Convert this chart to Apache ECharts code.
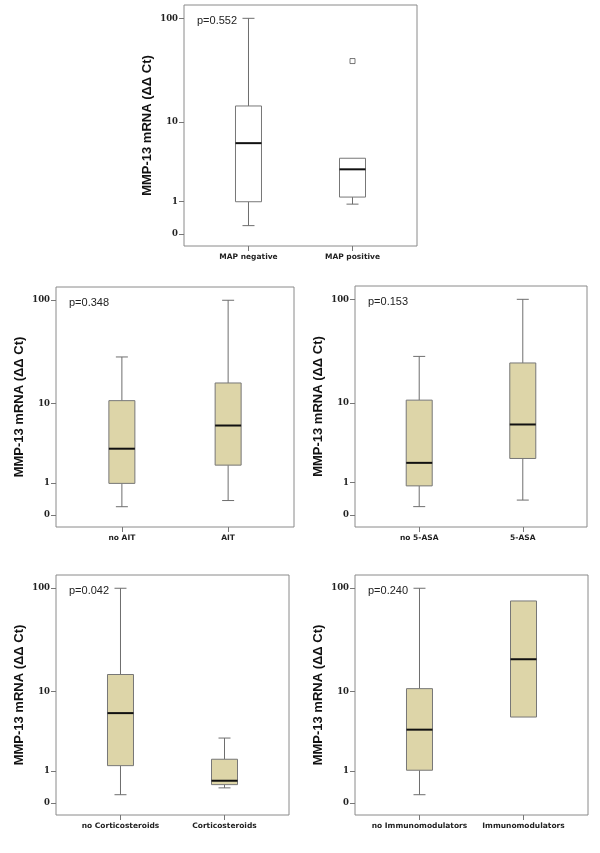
<!DOCTYPE html>
<html>
<head>
<meta charset="utf-8">
<script src="https://cdn.jsdelivr.net/npm/echarts@6/dist/echarts.min.js"></script>
<style>
html,body{margin:0;padding:0;background:#fff;}
#c{width:600px;height:853px;}
</style>
</head>
<body>
<div id="c"></div>
<script>
// Y tick labels (raw ΔΔCt values)
const yTicks = [0, 1, 10, 100];

// Panel 1
const cats1 = ['MAP negative', 'MAP positive'];
const box1 = [[0.2, 1.0, 6.0, 14.5, 100], [0.9, 1.21, 3.0, 4.07, 4.07]];
const out1 = [[1, 39.5]];
const p1 = 'p=0.552';

// Panel 2
const cats2 = ['no AIT', 'AIT'];
const box2 = [[0.2, 0.98, 3.17, 10.7, 28.9], [0.37, 1.93, 5.86, 16.1, 100]];
const p2 = 'p=0.348';

// Panel 3
const cats3 = ['no 5-ASA', '5-ASA'];
const box3 = [[0.2, 0.87, 2.06, 10.7, 28.8], [0.38, 2.36, 5.95, 24.9, 100]];
const p3 = 'p=0.153';

// Panel 4
const cats4 = ['no Corticosteroids', 'Corticosteroids'];
const box4 = [[0.2, 1.24, 5.92, 14.85, 100], [0.39, 0.49, 0.62, 1.57, 3.05]];
const p4 = 'p=0.042';

// Panel 5
const cats5 = ['no Immunomodulators', 'Immunomodulators'];
const box5 = [[0.2, 1.03, 3.85, 10.7, 100], [5.36, 5.36, 21.0, 75.9, 75.9]];
const p5 = 'p=0.240';

const T = v => Math.log10(1 + v);

const panels = [
  {cats: cats1, box: box1, out: out1, p: p1, fill: '#ffffff', rect: {left: 184, top: 5, width: 233, height: 241}},
  {cats: cats2, box: box2, out: [], p: p2, fill: '#ddd5a8', rect: {left: 56, top: 287, width: 238, height: 240}},
  {cats: cats3, box: box3, out: [], p: p3, fill: '#ddd5a8', rect: {left: 355, top: 286, width: 232, height: 241}},
  {cats: cats4, box: box4, out: [], p: p4, fill: '#ddd5a8', rect: {left: 56, top: 575, width: 233, height: 240}},
  {cats: cats5, box: box5, out: [], p: p5, fill: '#ddd5a8', rect: {left: 355, top: 575, width: 233, height: 240}}
];

function makeRender(fill) {
  return function (params, api) {
    const x = api.value(0);
    const pts = [1, 2, 3, 4, 5].map(i => api.coord([x, api.value(i)]));
    const cx = pts[0][0];
    const hw = 13, cw = 6;
    const yMin = pts[0][1], yQ1 = pts[1][1], yMed = pts[2][1], yQ3 = pts[3][1], yMax = pts[4][1];
    const ls = {stroke: '#6e6e6e', lineWidth: 1};
    const ch = [];
    if (Math.abs(yMax - yQ3) > 0.5) {
      ch.push({type: 'line', shape: {x1: cx, y1: yQ3, x2: cx, y2: yMax}, style: ls});
      ch.push({type: 'line', shape: {x1: cx - cw, y1: yMax, x2: cx + cw, y2: yMax}, style: ls});
    }
    if (Math.abs(yMin - yQ1) > 0.5) {
      ch.push({type: 'line', shape: {x1: cx, y1: yQ1, x2: cx, y2: yMin}, style: ls});
      ch.push({type: 'line', shape: {x1: cx - cw, y1: yMin, x2: cx + cw, y2: yMin}, style: ls});
    }
    ch.push({type: 'rect', shape: {x: cx - hw, y: yQ3, width: 2 * hw, height: yQ1 - yQ3},
      style: {fill: fill, stroke: '#777777', lineWidth: 1}});
    ch.push({type: 'line', shape: {x1: cx - hw, y1: yMed, x2: cx + hw, y2: yMed},
      style: {stroke: '#111111', lineWidth: 2}});
    return {type: 'group', children: ch};
  };
}

const grid = [], xAxis = [], yAxis = [], series = [], title = [];
panels.forEach((pn, i) => {
  grid.push(Object.assign({show: true, borderColor: '#8a8a8a', borderWidth: 1, backgroundColor: 'transparent', containLabel: false}, pn.rect));
  xAxis.push({
    type: 'value', gridIndex: i, min: -0.62, max: 1.62, position: 'bottom',
    axisLine: {show: false, onZero: false},
    splitLine: {show: false},
    axisTick: {show: true, customValues: [0, 1], length: 5, lineStyle: {color: '#777'}},
    axisLabel: {customValues: [0, 1], formatter: v => pn.cats[Math.round(v)] || '', margin: 7,
      fontFamily: 'DejaVu Sans', fontWeight: 'bold', fontSize: 7.5, color: '#222'}
  });
  const tv = yTicks.map(T);
  yAxis.push({
    type: 'value', gridIndex: i, min: -0.11, max: 2.128, position: 'left',
    name: 'MMP-13 mRNA (ΔΔ Ct)', nameLocation: 'middle', nameGap: 30, nameRotate: 90,
    nameTextStyle: {fontFamily: 'Liberation Sans', fontWeight: 'bold', fontSize: 13, color: '#111'},
    axisLine: {show: false, onZero: false},
    splitLine: {show: false},
    axisTick: {show: true, customValues: tv, length: 5, lineStyle: {color: '#777'}},
    axisLabel: {customValues: tv, formatter: v => String(Math.round(Math.pow(10, v) - 1)), margin: 6,
      fontFamily: 'DejaVu Serif', fontWeight: 'bold', fontSize: 8.5, color: '#222'}
  });
  series.push({
    type: 'custom', xAxisIndex: i, yAxisIndex: i,
    renderItem: makeRender(pn.fill),
    encode: {x: 0, y: [1, 2, 3, 4, 5]},
    data: pn.box.map((b, k) => [k].concat(b.map(T))),
    silent: true
  });
  if (pn.out.length) {
    series.push({
      type: 'scatter', xAxisIndex: i, yAxisIndex: i,
      symbol: 'rect', symbolSize: 5,
      itemStyle: {color: '#ffffff', borderColor: '#555', borderWidth: 1},
      data: pn.out.map(o => [o[0], T(o[1])]),
      silent: true
    });
  }
  title.push({
    text: pn.p, left: pn.rect.left + 8, top: pn.rect.top + 5,
    textStyle: {fontFamily: 'Liberation Sans', fontWeight: 'normal', fontSize: 11, color: '#222'}
  });
});

const chart = echarts.init(document.getElementById('c'), null, {renderer: 'canvas'});
chart.setOption({animation: false, backgroundColor: '#fff', title, grid, xAxis, yAxis, series});
</script>
</body>
</html>
